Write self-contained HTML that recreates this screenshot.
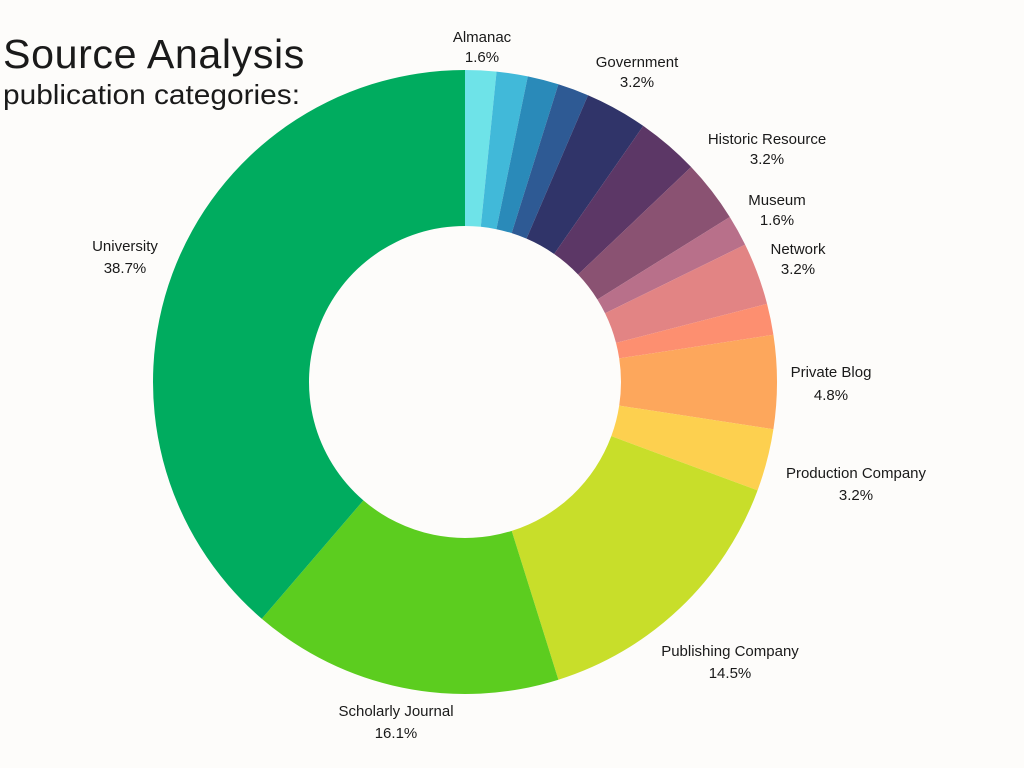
<!DOCTYPE html>
<html><head><meta charset="utf-8"><style>
html,body{margin:0;padding:0;background:#fdfcfa;}
svg{display:block}
text{font-family:"Liberation Sans",sans-serif;fill:#1a1a1a}
.l{font-size:15px;text-anchor:middle}
</style></head><body>
<svg id="s" width="1024" height="768" viewBox="0 0 1024 768">
<rect width="1024" height="768" fill="#fdfcfa"/>
<g id="g"></g>
<text x="3" y="68" style="font-size:41px;letter-spacing:0.6px" textLength="302" lengthAdjust="spacingAndGlyphs">Source Analysis</text>
<text x="3" y="104" style="font-size:28px" textLength="297" lengthAdjust="spacingAndGlyphs">publication categories:</text>
<text class="l" x="482" y="42">Almanac</text><text class="l" x="482" y="62">1.6%</text>
<text class="l" x="637" y="67">Government</text><text class="l" x="637" y="87">3.2%</text>
<text class="l" x="767" y="144">Historic Resource</text><text class="l" x="767" y="164">3.2%</text>
<text class="l" x="777" y="205">Museum</text><text class="l" x="777" y="225">1.6%</text>
<text class="l" x="798" y="254">Network</text><text class="l" x="798" y="274">3.2%</text>
<text class="l" x="831" y="377">Private Blog</text><text class="l" x="831" y="400">4.8%</text>
<text class="l" x="856" y="478">Production Company</text><text class="l" x="856" y="500">3.2%</text>
<text class="l" x="730" y="656">Publishing Company</text><text class="l" x="730" y="678">14.5%</text>
<text class="l" x="396" y="716">Scholarly Journal</text><text class="l" x="396" y="738">16.1%</text>
<text class="l" x="125" y="251">University</text><text class="l" x="125" y="273">38.7%</text>
</svg>
<script>
var d=[[1,"#6ee3e8"],[1,"#41b9d9"],[1,"#2a8ab9"],[1,"#2e5a94"],[2,"#303469"],[2,"#5c3766"],[2,"#8a5272"],[1,"#b8708a"],[2,"#e28484"],[1,"#fd8f70"],[3,"#fda75c"],[2,"#fdd04f"],[9,"#c8de2a"],[10,"#5ccd1f"],[24,"#00ac5f"]];
var cx=465,cy=382,R=312,r=156,a=0,h="";
function p(rad,t){var q=t/62*2*Math.PI-Math.PI/2;return (cx+rad*Math.cos(q)).toFixed(2)+","+(cy+rad*Math.sin(q)).toFixed(2);}
d.forEach(function(x){var b=a+x[0],lg=x[0]>31?1:0;
h+='<path fill="'+x[1]+'" d="M'+p(R,a)+' A'+R+','+R+' 0 '+lg+' 1 '+p(R,b)+' L'+p(r,b)+' A'+r+','+r+' 0 '+lg+' 0 '+p(r,a)+' Z"/>';a=b;});
document.getElementById("g").innerHTML=h;
</script>
</body></html>
